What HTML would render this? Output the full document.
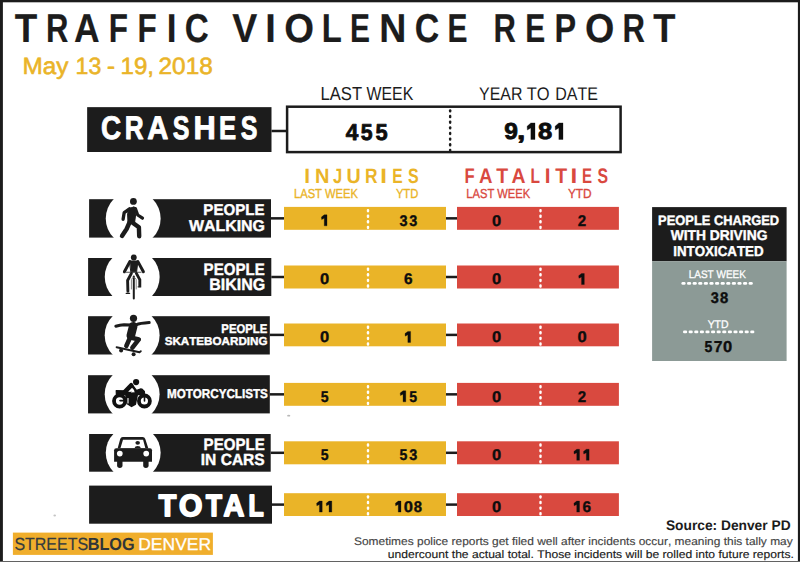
<!DOCTYPE html>
<html><head><meta charset="utf-8"><style>
html,body{margin:0;padding:0;background:#fff;width:800px;height:562px;overflow:hidden}
svg{display:block}
text{font-family:"Liberation Sans", sans-serif;font-kerning:none;text-rendering:geometricPrecision}
</style></head><body>
<svg width="800" height="562" viewBox="0 0 800 562">
<rect width="800" height="562" fill="#fff"/>
<rect x="0" y="0" width="800" height="2.3" fill="#1c1c1c"/>
<rect x="0" y="0" width="2.9" height="562" fill="#1c1c1c"/>
<rect x="797.9" y="0" width="2.1" height="562" fill="#1c1c1c"/>
<rect x="0" y="561" width="800" height="1" fill="#626262"/>
<text x="14.63" y="41.90" font-size="40.26" font-weight="bold" fill="#1c1c1c" textLength="22.47" lengthAdjust="spacingAndGlyphs"  stroke="#1c1c1c" stroke-width="0.2" stroke-linejoin="round">T</text>
<text x="45.88" y="41.90" font-size="40.26" font-weight="bold" fill="#1c1c1c" textLength="22.40" lengthAdjust="spacingAndGlyphs"  stroke="#1c1c1c" stroke-width="0.2" stroke-linejoin="round">R</text>
<text x="74.11" y="41.90" font-size="40.26" font-weight="bold" fill="#1c1c1c" textLength="25.65" lengthAdjust="spacingAndGlyphs"  stroke="#1c1c1c" stroke-width="0.2" stroke-linejoin="round">A</text>
<text x="108.70" y="41.90" font-size="40.26" font-weight="bold" fill="#1c1c1c" textLength="19.22" lengthAdjust="spacingAndGlyphs"  stroke="#1c1c1c" stroke-width="0.2" stroke-linejoin="round">F</text>
<text x="137.40" y="41.90" font-size="40.26" font-weight="bold" fill="#1c1c1c" textLength="19.22" lengthAdjust="spacingAndGlyphs"  stroke="#1c1c1c" stroke-width="0.2" stroke-linejoin="round">F</text>
<text x="166.81" y="41.90" font-size="40.26" font-weight="bold" fill="#1c1c1c" textLength="9.77" lengthAdjust="spacingAndGlyphs"  stroke="#1c1c1c" stroke-width="0.2" stroke-linejoin="round">I</text>
<text x="184.87" y="41.90" font-size="40.26" font-weight="bold" fill="#1c1c1c" textLength="23.98" lengthAdjust="spacingAndGlyphs"  stroke="#1c1c1c" stroke-width="0.2" stroke-linejoin="round">C</text>
<text x="232.21" y="41.90" font-size="40.26" font-weight="bold" fill="#1c1c1c" textLength="25.05" lengthAdjust="spacingAndGlyphs"  stroke="#1c1c1c" stroke-width="0.2" stroke-linejoin="round">V</text>
<text x="265.33" y="41.90" font-size="40.26" font-weight="bold" fill="#1c1c1c" textLength="10.54" lengthAdjust="spacingAndGlyphs"  stroke="#1c1c1c" stroke-width="0.2" stroke-linejoin="round">I</text>
<text x="284.27" y="41.90" font-size="40.26" font-weight="bold" fill="#1c1c1c" textLength="29.77" lengthAdjust="spacingAndGlyphs"  stroke="#1c1c1c" stroke-width="0.2" stroke-linejoin="round">O</text>
<text x="321.87" y="41.90" font-size="40.26" font-weight="bold" fill="#1c1c1c" textLength="20.05" lengthAdjust="spacingAndGlyphs"  stroke="#1c1c1c" stroke-width="0.2" stroke-linejoin="round">L</text>
<text x="350.06" y="41.90" font-size="40.26" font-weight="bold" fill="#1c1c1c" textLength="19.95" lengthAdjust="spacingAndGlyphs"  stroke="#1c1c1c" stroke-width="0.2" stroke-linejoin="round">E</text>
<text x="379.27" y="41.90" font-size="40.26" font-weight="bold" fill="#1c1c1c" textLength="27.05" lengthAdjust="spacingAndGlyphs"  stroke="#1c1c1c" stroke-width="0.2" stroke-linejoin="round">N</text>
<text x="414.84" y="41.90" font-size="40.26" font-weight="bold" fill="#1c1c1c" textLength="24.48" lengthAdjust="spacingAndGlyphs"  stroke="#1c1c1c" stroke-width="0.2" stroke-linejoin="round">C</text>
<text x="447.56" y="41.90" font-size="40.26" font-weight="bold" fill="#1c1c1c" textLength="19.95" lengthAdjust="spacingAndGlyphs"  stroke="#1c1c1c" stroke-width="0.2" stroke-linejoin="round">E</text>
<text x="493.38" y="41.90" font-size="40.26" font-weight="bold" fill="#1c1c1c" textLength="22.40" lengthAdjust="spacingAndGlyphs"  stroke="#1c1c1c" stroke-width="0.2" stroke-linejoin="round">R</text>
<text x="525.16" y="41.90" font-size="40.26" font-weight="bold" fill="#1c1c1c" textLength="19.95" lengthAdjust="spacingAndGlyphs"  stroke="#1c1c1c" stroke-width="0.2" stroke-linejoin="round">E</text>
<text x="554.59" y="41.90" font-size="40.26" font-weight="bold" fill="#1c1c1c" textLength="21.65" lengthAdjust="spacingAndGlyphs"  stroke="#1c1c1c" stroke-width="0.2" stroke-linejoin="round">P</text>
<text x="584.89" y="41.90" font-size="40.26" font-weight="bold" fill="#1c1c1c" textLength="29.32" lengthAdjust="spacingAndGlyphs"  stroke="#1c1c1c" stroke-width="0.2" stroke-linejoin="round">O</text>
<text x="622.43" y="41.90" font-size="40.26" font-weight="bold" fill="#1c1c1c" textLength="22.46" lengthAdjust="spacingAndGlyphs"  stroke="#1c1c1c" stroke-width="0.2" stroke-linejoin="round">R</text>
<text x="653.34" y="41.90" font-size="40.26" font-weight="bold" fill="#1c1c1c" textLength="22.16" lengthAdjust="spacingAndGlyphs"  stroke="#1c1c1c" stroke-width="0.2" stroke-linejoin="round">T</text>
<text x="22.45" y="73.60" font-size="23.55" font-weight="normal" fill="#eab428" textLength="45.98" lengthAdjust="spacingAndGlyphs"  stroke="#eab428" stroke-width="0.6" stroke-linejoin="round">May</text>
<text x="75.57" y="73.60" font-size="23.55" font-weight="normal" fill="#eab428" textLength="25.71" lengthAdjust="spacingAndGlyphs"  stroke="#eab428" stroke-width="0.6" stroke-linejoin="round">13</text>
<text x="107.12" y="73.60" font-size="23.55" font-weight="normal" fill="#eab428" textLength="8.02" lengthAdjust="spacingAndGlyphs"  stroke="#eab428" stroke-width="0.6" stroke-linejoin="round">-</text>
<text x="120.59" y="73.60" font-size="23.55" font-weight="normal" fill="#eab428" textLength="33.48" lengthAdjust="spacingAndGlyphs"  stroke="#eab428" stroke-width="0.6" stroke-linejoin="round">19,</text>
<text x="158.58" y="73.60" font-size="23.55" font-weight="normal" fill="#eab428" textLength="54.18" lengthAdjust="spacingAndGlyphs"  stroke="#eab428" stroke-width="0.6" stroke-linejoin="round">2018</text>
<text x="320.57" y="100.10" font-size="18.75" font-weight="normal" fill="#1c1c1c" textLength="41.48" lengthAdjust="spacingAndGlyphs" >LAST</text>
<text x="366.62" y="100.10" font-size="18.75" font-weight="normal" fill="#1c1c1c" textLength="46.64" lengthAdjust="spacingAndGlyphs" >WEEK</text>
<text x="479.10" y="99.50" font-size="18.31" font-weight="normal" fill="#1c1c1c" textLength="43.42" lengthAdjust="spacingAndGlyphs" >YEAR</text>
<text x="526.67" y="99.50" font-size="18.31" font-weight="normal" fill="#1c1c1c" textLength="22.90" lengthAdjust="spacingAndGlyphs" >TO</text>
<text x="555.18" y="99.50" font-size="18.31" font-weight="normal" fill="#1c1c1c" textLength="42.72" lengthAdjust="spacingAndGlyphs" >DATE</text>
<rect x="87.15" y="107.15" width="184.35" height="44.85" fill="#1c1c1c"/>
<text x="100.99" y="139.10" font-size="32.70" font-weight="bold" fill="#fff" textLength="20.12" lengthAdjust="spacingAndGlyphs"  stroke="#fff" stroke-width="0.9" stroke-linejoin="round">C</text>
<text x="124.75" y="139.10" font-size="32.70" font-weight="bold" fill="#fff" textLength="18.88" lengthAdjust="spacingAndGlyphs"  stroke="#fff" stroke-width="0.9" stroke-linejoin="round">R</text>
<text x="147.32" y="139.10" font-size="32.70" font-weight="bold" fill="#fff" textLength="21.13" lengthAdjust="spacingAndGlyphs"  stroke="#fff" stroke-width="0.9" stroke-linejoin="round">A</text>
<text x="172.70" y="139.10" font-size="32.70" font-weight="bold" fill="#fff" textLength="16.68" lengthAdjust="spacingAndGlyphs"  stroke="#fff" stroke-width="0.9" stroke-linejoin="round">S</text>
<text x="193.44" y="139.10" font-size="32.70" font-weight="bold" fill="#fff" textLength="22.28" lengthAdjust="spacingAndGlyphs"  stroke="#fff" stroke-width="0.9" stroke-linejoin="round">H</text>
<text x="219.08" y="139.10" font-size="32.70" font-weight="bold" fill="#fff" textLength="17.12" lengthAdjust="spacingAndGlyphs"  stroke="#fff" stroke-width="0.9" stroke-linejoin="round">E</text>
<text x="240.70" y="139.10" font-size="32.70" font-weight="bold" fill="#fff" textLength="16.68" lengthAdjust="spacingAndGlyphs"  stroke="#fff" stroke-width="0.9" stroke-linejoin="round">S</text>
<rect x="271.5" y="129.75" width="15" height="2.5" fill="#1c1c1c"/>
<rect x="287.1" y="106.7" width="333.5" height="45.4" fill="#fff" stroke="#1c1c1c" stroke-width="2.5"/>
<rect x="448.95" y="109.20" width="2.4" height="3.4" rx="1.1" fill="#1c1c1c"/>
<rect x="448.95" y="114.85" width="2.4" height="3.4" rx="1.1" fill="#1c1c1c"/>
<rect x="448.95" y="120.50" width="2.4" height="3.4" rx="1.1" fill="#1c1c1c"/>
<rect x="448.95" y="126.15" width="2.4" height="3.4" rx="1.1" fill="#1c1c1c"/>
<rect x="448.95" y="131.80" width="2.4" height="3.4" rx="1.1" fill="#1c1c1c"/>
<rect x="448.95" y="137.45" width="2.4" height="3.4" rx="1.1" fill="#1c1c1c"/>
<rect x="448.95" y="143.10" width="2.4" height="3.4" rx="1.1" fill="#1c1c1c"/>
<rect x="448.95" y="148.75" width="2.4" height="3.4" rx="1.1" fill="#1c1c1c"/>
<text x="345.86" y="139.60" font-size="22.97" font-weight="bold" fill="#0d0d0d" textLength="12.58" lengthAdjust="spacingAndGlyphs"  stroke="#0d0d0d" stroke-width="0.8" stroke-linejoin="round">4</text>
<text x="360.66" y="139.60" font-size="22.97" font-weight="bold" fill="#0d0d0d" textLength="11.79" lengthAdjust="spacingAndGlyphs"  stroke="#0d0d0d" stroke-width="0.8" stroke-linejoin="round">5</text>
<text x="375.45" y="139.60" font-size="22.97" font-weight="bold" fill="#0d0d0d" textLength="12.12" lengthAdjust="spacingAndGlyphs"  stroke="#0d0d0d" stroke-width="0.8" stroke-linejoin="round">5</text>
<text x="504.34" y="139.20" font-size="23.11" font-weight="bold" fill="#0d0d0d" textLength="13.65" lengthAdjust="spacingAndGlyphs"  stroke="#0d0d0d" stroke-width="0.8" stroke-linejoin="round">9</text>
<text x="516.90" y="139.20" font-size="23.11" font-weight="bold" fill="#0d0d0d" textLength="8.33" lengthAdjust="spacingAndGlyphs"  stroke="#0d0d0d" stroke-width="0.8" stroke-linejoin="round">,</text>
<path d="M530.85 122.90 L535.00 122.90 L535.00 139.50 L530.85 139.50 L530.85 128.05 L527.35 130.04 L527.10 126.22 Z" fill="#0d0d0d" stroke="#0d0d0d" stroke-width="0.3" stroke-linejoin="round"/>
<text x="538.13" y="139.20" font-size="23.11" font-weight="bold" fill="#0d0d0d" textLength="14.27" lengthAdjust="spacingAndGlyphs"  stroke="#0d0d0d" stroke-width="0.8" stroke-linejoin="round">8</text>
<path d="M558.85 122.90 L563.00 122.90 L563.00 139.50 L558.85 139.50 L558.85 128.05 L555.35 130.04 L555.10 126.22 Z" fill="#0d0d0d" stroke="#0d0d0d" stroke-width="0.3" stroke-linejoin="round"/>
<text x="304.33" y="183.00" font-size="20.78" font-weight="bold" fill="#eab428" textLength="5.84" lengthAdjust="spacingAndGlyphs" >I</text>
<text x="314.90" y="183.00" font-size="20.78" font-weight="bold" fill="#eab428" textLength="14.44" lengthAdjust="spacingAndGlyphs" >N</text>
<text x="332.95" y="183.00" font-size="20.78" font-weight="bold" fill="#eab428" textLength="9.25" lengthAdjust="spacingAndGlyphs" >J</text>
<text x="346.52" y="183.00" font-size="20.78" font-weight="bold" fill="#eab428" textLength="14.20" lengthAdjust="spacingAndGlyphs" >U</text>
<text x="364.97" y="183.00" font-size="20.78" font-weight="bold" fill="#eab428" textLength="12.51" lengthAdjust="spacingAndGlyphs" >R</text>
<text x="380.33" y="183.00" font-size="20.78" font-weight="bold" fill="#eab428" textLength="6.71" lengthAdjust="spacingAndGlyphs" >I</text>
<text x="392.19" y="183.00" font-size="20.78" font-weight="bold" fill="#eab428" textLength="10.39" lengthAdjust="spacingAndGlyphs" >E</text>
<text x="408.12" y="183.00" font-size="20.78" font-weight="bold" fill="#eab428" textLength="10.67" lengthAdjust="spacingAndGlyphs" >S</text>
<text x="464.42" y="183.00" font-size="21.08" font-weight="bold" fill="#d9493f" textLength="10.18" lengthAdjust="spacingAndGlyphs" >F</text>
<text x="479.03" y="183.00" font-size="21.08" font-weight="bold" fill="#d9493f" textLength="13.47" lengthAdjust="spacingAndGlyphs" >A</text>
<text x="496.31" y="183.00" font-size="21.08" font-weight="bold" fill="#d9493f" textLength="11.91" lengthAdjust="spacingAndGlyphs" >T</text>
<text x="511.51" y="183.00" font-size="21.08" font-weight="bold" fill="#d9493f" textLength="14.01" lengthAdjust="spacingAndGlyphs" >A</text>
<text x="530.49" y="183.00" font-size="21.08" font-weight="bold" fill="#d9493f" textLength="9.49" lengthAdjust="spacingAndGlyphs" >L</text>
<text x="544.66" y="183.00" font-size="21.08" font-weight="bold" fill="#d9493f" textLength="5.75" lengthAdjust="spacingAndGlyphs" >I</text>
<text x="555.31" y="183.00" font-size="21.08" font-weight="bold" fill="#d9493f" textLength="11.91" lengthAdjust="spacingAndGlyphs" >T</text>
<text x="570.43" y="183.00" font-size="21.08" font-weight="bold" fill="#d9493f" textLength="6.71" lengthAdjust="spacingAndGlyphs" >I</text>
<text x="582.02" y="183.00" font-size="21.08" font-weight="bold" fill="#d9493f" textLength="10.03" lengthAdjust="spacingAndGlyphs" >E</text>
<text x="597.52" y="183.00" font-size="21.08" font-weight="bold" fill="#d9493f" textLength="10.56" lengthAdjust="spacingAndGlyphs" >S</text>
<text x="293.98" y="197.50" font-size="13.08" font-weight="normal" fill="#eab428" textLength="63.97" lengthAdjust="spacingAndGlyphs"  stroke="#eab428" stroke-width="0.35" stroke-linejoin="round">LAST WEEK</text>
<text x="395.89" y="197.50" font-size="13.08" font-weight="normal" fill="#eab428" textLength="22.44" lengthAdjust="spacingAndGlyphs"  stroke="#eab428" stroke-width="0.35" stroke-linejoin="round">YTD</text>
<text x="466.28" y="197.50" font-size="13.08" font-weight="normal" fill="#d9493f" textLength="63.97" lengthAdjust="spacingAndGlyphs"  stroke="#d9493f" stroke-width="0.35" stroke-linejoin="round">LAST WEEK</text>
<text x="567.88" y="197.50" font-size="13.08" font-weight="normal" fill="#d9493f" textLength="23.78" lengthAdjust="spacingAndGlyphs"  stroke="#d9493f" stroke-width="0.35" stroke-linejoin="round">YTD</text>
<rect x="89.1" y="199.2" width="181.90" height="38.40" fill="#1c1c1c"/>
<circle cx="133.20" cy="218.40" r="27.45" fill="#fff"/>
<rect x="271.0" y="217.10" width="13.00" height="2.5" fill="#1c1c1c"/>
<rect x="446" y="217.10" width="11" height="2.5" fill="#1c1c1c"/>
<rect x="284" y="206.9" width="162" height="22.90" fill="#eab428"/>
<rect x="457" y="206.9" width="161.9" height="22.90" fill="#d9493f"/>
<rect x="366.8" y="208.90" width="2.4" height="3.5" rx="1.1" fill="#fff"/>
<rect x="366.8" y="214.50" width="2.4" height="3.5" rx="1.1" fill="#fff"/>
<rect x="366.8" y="220.10" width="2.4" height="3.5" rx="1.1" fill="#fff"/>
<rect x="366.8" y="225.70" width="2.4" height="3.5" rx="1.1" fill="#fff"/>
<rect x="539.3" y="208.90" width="2.4" height="3.5" rx="1.1" fill="#fff"/>
<rect x="539.3" y="214.50" width="2.4" height="3.5" rx="1.1" fill="#fff"/>
<rect x="539.3" y="220.10" width="2.4" height="3.5" rx="1.1" fill="#fff"/>
<rect x="539.3" y="225.70" width="2.4" height="3.5" rx="1.1" fill="#fff"/>
<path d="M324.25 214.85 L327.00 214.85 L327.00 225.85 L324.25 225.85 L324.25 218.26 L321.65 219.58 L321.40 217.05 Z" fill="#0d0d0d" stroke="#0d0d0d" stroke-width="0.3" stroke-linejoin="round"/>
<text x="399.56" y="225.68" font-size="15.48" font-weight="bold" fill="#0d0d0d" textLength="8.03" lengthAdjust="spacingAndGlyphs"  stroke="#0d0d0d" stroke-width="0.35" stroke-linejoin="round">3</text>
<text x="409.16" y="225.68" font-size="15.48" font-weight="bold" fill="#0d0d0d" textLength="8.03" lengthAdjust="spacingAndGlyphs"  stroke="#0d0d0d" stroke-width="0.35" stroke-linejoin="round">3</text>
<text x="492.01" y="225.68" font-size="15.48" font-weight="bold" fill="#0d0d0d" textLength="9.19" lengthAdjust="spacingAndGlyphs"  stroke="#0d0d0d" stroke-width="0.35" stroke-linejoin="round">0</text>
<text x="577.85" y="225.68" font-size="15.48" font-weight="bold" fill="#0d0d0d" textLength="8.40" lengthAdjust="spacingAndGlyphs"  stroke="#0d0d0d" stroke-width="0.35" stroke-linejoin="round">2</text>
<rect x="88.1" y="258.0" width="183.20" height="38.00" fill="#1c1c1c"/>
<circle cx="132.20" cy="277.00" r="27.45" fill="#fff"/>
<rect x="271.3" y="275.75" width="12.70" height="2.5" fill="#1c1c1c"/>
<rect x="446" y="275.75" width="11" height="2.5" fill="#1c1c1c"/>
<rect x="284" y="265.5" width="162" height="23.00" fill="#eab428"/>
<rect x="457" y="265.5" width="161.9" height="23.00" fill="#d9493f"/>
<rect x="366.8" y="267.50" width="2.4" height="3.5" rx="1.1" fill="#fff"/>
<rect x="366.8" y="273.10" width="2.4" height="3.5" rx="1.1" fill="#fff"/>
<rect x="366.8" y="278.70" width="2.4" height="3.5" rx="1.1" fill="#fff"/>
<rect x="366.8" y="284.30" width="2.4" height="3.5" rx="1.1" fill="#fff"/>
<rect x="539.3" y="267.50" width="2.4" height="3.5" rx="1.1" fill="#fff"/>
<rect x="539.3" y="273.10" width="2.4" height="3.5" rx="1.1" fill="#fff"/>
<rect x="539.3" y="278.70" width="2.4" height="3.5" rx="1.1" fill="#fff"/>
<rect x="539.3" y="284.30" width="2.4" height="3.5" rx="1.1" fill="#fff"/>
<text x="320.11" y="284.32" font-size="15.48" font-weight="bold" fill="#0d0d0d" textLength="9.19" lengthAdjust="spacingAndGlyphs"  stroke="#0d0d0d" stroke-width="0.35" stroke-linejoin="round">0</text>
<text x="404.04" y="284.32" font-size="15.48" font-weight="bold" fill="#0d0d0d" textLength="8.54" lengthAdjust="spacingAndGlyphs"  stroke="#0d0d0d" stroke-width="0.35" stroke-linejoin="round">6</text>
<text x="492.01" y="284.32" font-size="15.48" font-weight="bold" fill="#0d0d0d" textLength="9.19" lengthAdjust="spacingAndGlyphs"  stroke="#0d0d0d" stroke-width="0.35" stroke-linejoin="round">0</text>
<path d="M581.55 273.50 L584.30 273.50 L584.30 284.50 L581.55 284.50 L581.55 276.91 L578.95 278.23 L578.70 275.70 Z" fill="#0d0d0d" stroke="#0d0d0d" stroke-width="0.3" stroke-linejoin="round"/>
<rect x="88.05" y="316.2" width="181.75" height="38.30" fill="#1c1c1c"/>
<circle cx="132.15" cy="335.35" r="27.45" fill="#fff"/>
<rect x="269.8" y="333.65" width="14.20" height="2.5" fill="#1c1c1c"/>
<rect x="446" y="333.65" width="11" height="2.5" fill="#1c1c1c"/>
<rect x="284" y="323.5" width="162" height="22.80" fill="#eab428"/>
<rect x="457" y="323.5" width="161.9" height="22.80" fill="#d9493f"/>
<rect x="366.8" y="325.50" width="2.4" height="3.5" rx="1.1" fill="#fff"/>
<rect x="366.8" y="331.10" width="2.4" height="3.5" rx="1.1" fill="#fff"/>
<rect x="366.8" y="336.70" width="2.4" height="3.5" rx="1.1" fill="#fff"/>
<rect x="366.8" y="342.30" width="2.4" height="3.5" rx="1.1" fill="#fff"/>
<rect x="539.3" y="325.50" width="2.4" height="3.5" rx="1.1" fill="#fff"/>
<rect x="539.3" y="331.10" width="2.4" height="3.5" rx="1.1" fill="#fff"/>
<rect x="539.3" y="336.70" width="2.4" height="3.5" rx="1.1" fill="#fff"/>
<rect x="539.3" y="342.30" width="2.4" height="3.5" rx="1.1" fill="#fff"/>
<text x="320.11" y="342.22" font-size="15.48" font-weight="bold" fill="#0d0d0d" textLength="9.19" lengthAdjust="spacingAndGlyphs"  stroke="#0d0d0d" stroke-width="0.35" stroke-linejoin="round">0</text>
<path d="M407.85 331.40 L410.60 331.40 L410.60 342.40 L407.85 342.40 L407.85 334.81 L405.25 336.13 L405.00 333.60 Z" fill="#0d0d0d" stroke="#0d0d0d" stroke-width="0.3" stroke-linejoin="round"/>
<text x="492.01" y="342.22" font-size="15.48" font-weight="bold" fill="#0d0d0d" textLength="9.19" lengthAdjust="spacingAndGlyphs"  stroke="#0d0d0d" stroke-width="0.35" stroke-linejoin="round">0</text>
<text x="577.41" y="342.22" font-size="15.48" font-weight="bold" fill="#0d0d0d" textLength="9.19" lengthAdjust="spacingAndGlyphs"  stroke="#0d0d0d" stroke-width="0.35" stroke-linejoin="round">0</text>
<rect x="88.05" y="375.2" width="181.75" height="38.20" fill="#1c1c1c"/>
<circle cx="132.15" cy="394.30" r="27.45" fill="#fff"/>
<rect x="269.8" y="393.10" width="14.20" height="2.5" fill="#1c1c1c"/>
<rect x="446" y="393.10" width="11" height="2.5" fill="#1c1c1c"/>
<rect x="284" y="382.9" width="162" height="22.90" fill="#eab428"/>
<rect x="457" y="382.9" width="161.9" height="22.90" fill="#d9493f"/>
<rect x="366.8" y="384.90" width="2.4" height="3.5" rx="1.1" fill="#fff"/>
<rect x="366.8" y="390.50" width="2.4" height="3.5" rx="1.1" fill="#fff"/>
<rect x="366.8" y="396.10" width="2.4" height="3.5" rx="1.1" fill="#fff"/>
<rect x="366.8" y="401.70" width="2.4" height="3.5" rx="1.1" fill="#fff"/>
<rect x="539.3" y="384.90" width="2.4" height="3.5" rx="1.1" fill="#fff"/>
<rect x="539.3" y="390.50" width="2.4" height="3.5" rx="1.1" fill="#fff"/>
<rect x="539.3" y="396.10" width="2.4" height="3.5" rx="1.1" fill="#fff"/>
<rect x="539.3" y="401.70" width="2.4" height="3.5" rx="1.1" fill="#fff"/>
<text x="320.75" y="401.68" font-size="15.48" font-weight="bold" fill="#0d0d0d" textLength="7.84" lengthAdjust="spacingAndGlyphs"  stroke="#0d0d0d" stroke-width="0.35" stroke-linejoin="round">5</text>
<path d="M403.05 390.85 L405.80 390.85 L405.80 401.85 L403.05 401.85 L403.05 394.26 L400.45 395.58 L400.20 393.05 Z" fill="#0d0d0d" stroke="#0d0d0d" stroke-width="0.3" stroke-linejoin="round"/>
<text x="409.15" y="401.68" font-size="15.48" font-weight="bold" fill="#0d0d0d" textLength="7.84" lengthAdjust="spacingAndGlyphs"  stroke="#0d0d0d" stroke-width="0.35" stroke-linejoin="round">5</text>
<text x="492.01" y="401.68" font-size="15.48" font-weight="bold" fill="#0d0d0d" textLength="9.19" lengthAdjust="spacingAndGlyphs"  stroke="#0d0d0d" stroke-width="0.35" stroke-linejoin="round">0</text>
<text x="577.85" y="401.68" font-size="15.48" font-weight="bold" fill="#0d0d0d" textLength="8.40" lengthAdjust="spacingAndGlyphs"  stroke="#0d0d0d" stroke-width="0.35" stroke-linejoin="round">2</text>
<rect x="89.1" y="434.0" width="181.60" height="37.70" fill="#1c1c1c"/>
<circle cx="133.20" cy="452.85" r="27.45" fill="#fff"/>
<rect x="270.7" y="451.55" width="13.30" height="2.5" fill="#1c1c1c"/>
<rect x="446" y="451.55" width="11" height="2.5" fill="#1c1c1c"/>
<rect x="284" y="441.3" width="162" height="23.00" fill="#eab428"/>
<rect x="457" y="441.3" width="161.9" height="23.00" fill="#d9493f"/>
<rect x="366.8" y="443.30" width="2.4" height="3.5" rx="1.1" fill="#fff"/>
<rect x="366.8" y="448.90" width="2.4" height="3.5" rx="1.1" fill="#fff"/>
<rect x="366.8" y="454.50" width="2.4" height="3.5" rx="1.1" fill="#fff"/>
<rect x="366.8" y="460.10" width="2.4" height="3.5" rx="1.1" fill="#fff"/>
<rect x="539.3" y="443.30" width="2.4" height="3.5" rx="1.1" fill="#fff"/>
<rect x="539.3" y="448.90" width="2.4" height="3.5" rx="1.1" fill="#fff"/>
<rect x="539.3" y="454.50" width="2.4" height="3.5" rx="1.1" fill="#fff"/>
<rect x="539.3" y="460.10" width="2.4" height="3.5" rx="1.1" fill="#fff"/>
<text x="320.75" y="460.12" font-size="15.48" font-weight="bold" fill="#0d0d0d" textLength="7.84" lengthAdjust="spacingAndGlyphs"  stroke="#0d0d0d" stroke-width="0.35" stroke-linejoin="round">5</text>
<text x="399.55" y="460.12" font-size="15.48" font-weight="bold" fill="#0d0d0d" textLength="7.84" lengthAdjust="spacingAndGlyphs"  stroke="#0d0d0d" stroke-width="0.35" stroke-linejoin="round">5</text>
<text x="409.16" y="460.12" font-size="15.48" font-weight="bold" fill="#0d0d0d" textLength="8.03" lengthAdjust="spacingAndGlyphs"  stroke="#0d0d0d" stroke-width="0.35" stroke-linejoin="round">3</text>
<text x="492.01" y="460.12" font-size="15.48" font-weight="bold" fill="#0d0d0d" textLength="9.19" lengthAdjust="spacingAndGlyphs"  stroke="#0d0d0d" stroke-width="0.35" stroke-linejoin="round">0</text>
<path d="M576.75 449.30 L579.50 449.30 L579.50 460.30 L576.75 460.30 L576.75 452.71 L574.15 454.03 L573.90 451.50 Z" fill="#0d0d0d" stroke="#0d0d0d" stroke-width="0.3" stroke-linejoin="round"/>
<path d="M586.35 449.30 L589.10 449.30 L589.10 460.30 L586.35 460.30 L586.35 452.71 L583.75 454.03 L583.50 451.50 Z" fill="#0d0d0d" stroke="#0d0d0d" stroke-width="0.3" stroke-linejoin="round"/>
<rect x="89.1" y="485.6" width="182.90" height="38.10" fill="#1c1c1c"/>
<rect x="272.0" y="503.35" width="12.00" height="2.5" fill="#1c1c1c"/>
<rect x="446" y="503.35" width="11" height="2.5" fill="#1c1c1c"/>
<rect x="284" y="493.2" width="162" height="22.80" fill="#eab428"/>
<rect x="457" y="493.2" width="161.9" height="22.80" fill="#d9493f"/>
<rect x="366.8" y="495.20" width="2.4" height="3.5" rx="1.1" fill="#fff"/>
<rect x="366.8" y="500.80" width="2.4" height="3.5" rx="1.1" fill="#fff"/>
<rect x="366.8" y="506.40" width="2.4" height="3.5" rx="1.1" fill="#fff"/>
<rect x="366.8" y="512.00" width="2.4" height="3.5" rx="1.1" fill="#fff"/>
<rect x="539.3" y="495.20" width="2.4" height="3.5" rx="1.1" fill="#fff"/>
<rect x="539.3" y="500.80" width="2.4" height="3.5" rx="1.1" fill="#fff"/>
<rect x="539.3" y="506.40" width="2.4" height="3.5" rx="1.1" fill="#fff"/>
<rect x="539.3" y="512.00" width="2.4" height="3.5" rx="1.1" fill="#fff"/>
<path d="M319.45 501.10 L322.20 501.10 L322.20 512.10 L319.45 512.10 L319.45 504.51 L316.85 505.83 L316.60 503.30 Z" fill="#0d0d0d" stroke="#0d0d0d" stroke-width="0.3" stroke-linejoin="round"/>
<path d="M329.05 501.10 L331.80 501.10 L331.80 512.10 L329.05 512.10 L329.05 504.51 L326.45 505.83 L326.20 503.30 Z" fill="#0d0d0d" stroke="#0d0d0d" stroke-width="0.3" stroke-linejoin="round"/>
<path d="M398.25 501.10 L401.00 501.10 L401.00 512.10 L398.25 512.10 L398.25 504.51 L395.65 505.83 L395.40 503.30 Z" fill="#0d0d0d" stroke="#0d0d0d" stroke-width="0.3" stroke-linejoin="round"/>
<text x="403.71" y="511.93" font-size="15.48" font-weight="bold" fill="#0d0d0d" textLength="9.19" lengthAdjust="spacingAndGlyphs"  stroke="#0d0d0d" stroke-width="0.35" stroke-linejoin="round">0</text>
<text x="413.78" y="511.93" font-size="15.48" font-weight="bold" fill="#0d0d0d" textLength="8.26" lengthAdjust="spacingAndGlyphs"  stroke="#0d0d0d" stroke-width="0.35" stroke-linejoin="round">8</text>
<text x="492.01" y="511.93" font-size="15.48" font-weight="bold" fill="#0d0d0d" textLength="9.19" lengthAdjust="spacingAndGlyphs"  stroke="#0d0d0d" stroke-width="0.35" stroke-linejoin="round">0</text>
<path d="M576.75 501.10 L579.50 501.10 L579.50 512.10 L576.75 512.10 L576.75 504.51 L574.15 505.83 L573.90 503.30 Z" fill="#0d0d0d" stroke="#0d0d0d" stroke-width="0.3" stroke-linejoin="round"/>
<text x="582.54" y="511.93" font-size="15.48" font-weight="bold" fill="#0d0d0d" textLength="8.54" lengthAdjust="spacingAndGlyphs"  stroke="#0d0d0d" stroke-width="0.35" stroke-linejoin="round">6</text>
<text x="203.32" y="215.20" font-size="15.63" font-weight="bold" fill="#fff" textLength="61.24" lengthAdjust="spacingAndGlyphs"  stroke="#fff" stroke-width="0.4" stroke-linejoin="round">PEOPLE</text>
<text x="188.90" y="231.15" font-size="15.63" font-weight="bold" fill="#fff" textLength="76.09" lengthAdjust="spacingAndGlyphs"  stroke="#fff" stroke-width="0.4" stroke-linejoin="round">WALKING</text>
<text x="203.62" y="274.70" font-size="16.86" font-weight="bold" fill="#fff" textLength="61.08" lengthAdjust="spacingAndGlyphs"  stroke="#fff" stroke-width="0.4" stroke-linejoin="round">PEOPLE</text>
<text x="209.16" y="289.70" font-size="16.42" font-weight="bold" fill="#fff" textLength="56.03" lengthAdjust="spacingAndGlyphs"  stroke="#fff" stroke-width="0.4" stroke-linejoin="round">BIKING</text>
<text x="221.37" y="333.00" font-size="12.65" font-weight="bold" fill="#fff" textLength="45.85" lengthAdjust="spacingAndGlyphs"  stroke="#fff" stroke-width="0.4" stroke-linejoin="round">PEOPLE</text>
<text x="164.65" y="345.40" font-size="11.48" font-weight="bold" fill="#fff" textLength="102.91" lengthAdjust="spacingAndGlyphs"  stroke="#fff" stroke-width="0.4" stroke-linejoin="round">SKATEBOARDING</text>
<text x="166.94" y="398.30" font-size="12.94" font-weight="bold" fill="#fff" textLength="100.91" lengthAdjust="spacingAndGlyphs"  stroke="#fff" stroke-width="0.4" stroke-linejoin="round">MOTORCYCLISTS</text>
<text x="203.62" y="449.90" font-size="16.57" font-weight="bold" fill="#fff" textLength="61.08" lengthAdjust="spacingAndGlyphs"  stroke="#fff" stroke-width="0.4" stroke-linejoin="round">PEOPLE</text>
<text x="200.79" y="465.30" font-size="16.13" font-weight="bold" fill="#fff" textLength="63.93" lengthAdjust="spacingAndGlyphs"  stroke="#fff" stroke-width="0.4" stroke-linejoin="round">IN CARS</text>
<text x="158.71" y="516.00" font-size="30.52" font-weight="bold" fill="#fff" textLength="17.50" lengthAdjust="spacingAndGlyphs"  stroke="#fff" stroke-width="1.8" stroke-linejoin="round">T</text>
<text x="179.00" y="516.00" font-size="30.52" font-weight="bold" fill="#fff" textLength="23.39" lengthAdjust="spacingAndGlyphs"  stroke="#fff" stroke-width="1.8" stroke-linejoin="round">O</text>
<text x="205.94" y="516.00" font-size="30.52" font-weight="bold" fill="#fff" textLength="15.94" lengthAdjust="spacingAndGlyphs"  stroke="#fff" stroke-width="1.8" stroke-linejoin="round">T</text>
<text x="223.48" y="516.00" font-size="30.52" font-weight="bold" fill="#fff" textLength="20.80" lengthAdjust="spacingAndGlyphs"  stroke="#fff" stroke-width="1.8" stroke-linejoin="round">A</text>
<text x="248.58" y="516.00" font-size="30.52" font-weight="bold" fill="#fff" textLength="15.18" lengthAdjust="spacingAndGlyphs"  stroke="#fff" stroke-width="1.8" stroke-linejoin="round">L</text>
<rect x="652.1" y="207.1" width="134.5" height="54.2" fill="#1c1c1c"/>
<rect x="652.1" y="261.3" width="134.5" height="99.7" fill="#8c9a96"/>
<text x="658.11" y="224.70" font-size="13.66" font-weight="bold" fill="#fff" textLength="121.01" lengthAdjust="spacingAndGlyphs"  stroke="#fff" stroke-width="0.4" stroke-linejoin="round">PEOPLE CHARGED</text>
<text x="670.70" y="240.20" font-size="14.10" font-weight="bold" fill="#fff" textLength="96.69" lengthAdjust="spacingAndGlyphs"  stroke="#fff" stroke-width="0.4" stroke-linejoin="round">WITH DRIVING</text>
<text x="673.22" y="255.50" font-size="14.39" font-weight="bold" fill="#fff" textLength="90.43" lengthAdjust="spacingAndGlyphs"  stroke="#fff" stroke-width="0.4" stroke-linejoin="round">INTOXICATED</text>
<text x="688.75" y="277.85" font-size="10.90" font-weight="normal" fill="#fff" textLength="57.11" lengthAdjust="spacingAndGlyphs"  stroke="#fff" stroke-width="0.3" stroke-linejoin="round">LAST WEEK</text>
<rect x="681.40" y="282.05" width="4.2" height="2.7" rx="1.35" fill="#fff"/>
<rect x="687.00" y="282.05" width="4.2" height="2.7" rx="1.35" fill="#fff"/>
<rect x="692.60" y="282.05" width="4.2" height="2.7" rx="1.35" fill="#fff"/>
<rect x="698.20" y="282.05" width="4.2" height="2.7" rx="1.35" fill="#fff"/>
<rect x="703.80" y="282.05" width="4.2" height="2.7" rx="1.35" fill="#fff"/>
<rect x="709.40" y="282.05" width="4.2" height="2.7" rx="1.35" fill="#fff"/>
<rect x="715.00" y="282.05" width="4.2" height="2.7" rx="1.35" fill="#fff"/>
<rect x="720.60" y="282.05" width="4.2" height="2.7" rx="1.35" fill="#fff"/>
<rect x="726.20" y="282.05" width="4.2" height="2.7" rx="1.35" fill="#fff"/>
<rect x="731.80" y="282.05" width="4.2" height="2.7" rx="1.35" fill="#fff"/>
<rect x="737.40" y="282.05" width="4.2" height="2.7" rx="1.35" fill="#fff"/>
<rect x="743.00" y="282.05" width="4.2" height="2.7" rx="1.35" fill="#fff"/>
<rect x="748.60" y="282.05" width="4.2" height="2.7" rx="1.35" fill="#fff"/>
<text x="710.66" y="302.82" font-size="15.48" font-weight="bold" fill="#0d0d0d" textLength="8.03" lengthAdjust="spacingAndGlyphs"  stroke="#0d0d0d" stroke-width="0.35" stroke-linejoin="round">3</text>
<text x="720.08" y="302.82" font-size="15.48" font-weight="bold" fill="#0d0d0d" textLength="8.26" lengthAdjust="spacingAndGlyphs"  stroke="#0d0d0d" stroke-width="0.35" stroke-linejoin="round">8</text>
<text x="707.64" y="327.60" font-size="10.90" font-weight="normal" fill="#fff" textLength="20.93" lengthAdjust="spacingAndGlyphs"  stroke="#fff" stroke-width="0.3" stroke-linejoin="round">YTD</text>
<rect x="683.00" y="330.55" width="4.2" height="2.7" rx="1.35" fill="#fff"/>
<rect x="688.60" y="330.55" width="4.2" height="2.7" rx="1.35" fill="#fff"/>
<rect x="694.20" y="330.55" width="4.2" height="2.7" rx="1.35" fill="#fff"/>
<rect x="699.80" y="330.55" width="4.2" height="2.7" rx="1.35" fill="#fff"/>
<rect x="705.40" y="330.55" width="4.2" height="2.7" rx="1.35" fill="#fff"/>
<rect x="711.00" y="330.55" width="4.2" height="2.7" rx="1.35" fill="#fff"/>
<rect x="716.60" y="330.55" width="4.2" height="2.7" rx="1.35" fill="#fff"/>
<rect x="722.20" y="330.55" width="4.2" height="2.7" rx="1.35" fill="#fff"/>
<rect x="727.80" y="330.55" width="4.2" height="2.7" rx="1.35" fill="#fff"/>
<rect x="733.40" y="330.55" width="4.2" height="2.7" rx="1.35" fill="#fff"/>
<rect x="739.00" y="330.55" width="4.2" height="2.7" rx="1.35" fill="#fff"/>
<rect x="744.60" y="330.55" width="4.2" height="2.7" rx="1.35" fill="#fff"/>
<rect x="750.20" y="330.55" width="4.2" height="2.7" rx="1.35" fill="#fff"/>
<text x="704.55" y="351.82" font-size="15.84" font-weight="bold" fill="#0d0d0d" textLength="7.84" lengthAdjust="spacingAndGlyphs"  stroke="#0d0d0d" stroke-width="0.35" stroke-linejoin="round">5</text>
<text x="713.75" y="351.82" font-size="15.84" font-weight="bold" fill="#0d0d0d" textLength="8.72" lengthAdjust="spacingAndGlyphs"  stroke="#0d0d0d" stroke-width="0.35" stroke-linejoin="round">7</text>
<text x="723.11" y="351.82" font-size="15.84" font-weight="bold" fill="#0d0d0d" textLength="9.19" lengthAdjust="spacingAndGlyphs"  stroke="#0d0d0d" stroke-width="0.35" stroke-linejoin="round">0</text>
<ellipse cx="54.7" cy="515.5" rx="1.3" ry="1" fill="#c4c4c4"/>
<ellipse cx="288.7" cy="415.7" rx="1.6" ry="0.9" fill="#b8b8b8"/>
<rect x="12.9" y="532.6" width="200" height="22.3" fill="#f0ae2c"/>
<text x="14.38" y="549.90" font-size="17.59" font-weight="normal" fill="#353b3e" textLength="73.77" lengthAdjust="spacingAndGlyphs"  stroke="#353b3e" stroke-width="0.2" stroke-linejoin="round">STREETS</text>
<text x="87.69" y="549.90" font-size="17.59" font-weight="bold" fill="#2f3538" textLength="46.94" lengthAdjust="spacingAndGlyphs" >BLOG</text>
<text x="138.25" y="549.70" font-size="17.01" font-weight="normal" fill="#fff" textLength="72.83" lengthAdjust="spacingAndGlyphs"  stroke="#fff" stroke-width="0.3" stroke-linejoin="round">DENVER</text>
<text x="665.89" y="529.60" font-size="13.95" font-weight="bold" fill="#1c1c1c" textLength="124.72" lengthAdjust="spacingAndGlyphs" >Source: Denver PD</text>
<text x="353.94" y="544.60" font-size="11.05" font-weight="normal" fill="#454545" textLength="438.78" lengthAdjust="spacingAndGlyphs"  stroke="#454545" stroke-width="0.15" stroke-linejoin="round">Sometimes police reports get filed well after incidents occur, meaning this tally may</text>
<text x="387.79" y="557.60" font-size="11.05" font-weight="normal" fill="#202020" textLength="406.05" lengthAdjust="spacingAndGlyphs"  stroke="#202020" stroke-width="0.15" stroke-linejoin="round">undercount the actual total. Those incidents will be rolled into future reports.</text>
<g id="walk" fill="#1c1c1c" stroke="#1c1c1c" stroke-linecap="round" stroke-linejoin="round">
  <circle cx="133.4" cy="201.4" r="3.4" stroke="none"/>
  <path d="M129 208.6 L134.2 206.8 L136.3 209.5 L134.6 222.4 L128 222.6 L127.6 214 Z" stroke-width="1"/>
  <path d="M129.5 208.8 L124.2 212.6 L123.1 219.3" stroke-width="3.3" fill="none"/>
  <path d="M135.4 208.6 L137.7 215 L142.5 218.2" stroke-width="3.2" fill="none"/>
  <path d="M129.7 222 L126.6 229 L122 236" stroke-width="4.4" fill="none"/>
  <path d="M131.6 222 L138.9 227.3 L139.2 236.2" stroke-width="4.4" fill="none"/>
</g>
<g id="bike" fill="#1c1c1c" stroke="#1c1c1c" stroke-linecap="round" stroke-linejoin="round">
  <circle cx="133.8" cy="257.5" r="2.9" stroke="none"/>
  <path d="M129.8 261 L137.9 261 L136.6 272 L131.2 272 Z" stroke-width="1"/>
  <path d="M129.8 261.6 L124.4 271.8" stroke-width="3" fill="none"/>
  <path d="M137.9 261.6 L143.4 271.8" stroke-width="3" fill="none"/>
  <path d="M126.5 272.2 L141 272.2" stroke-width="1.1" fill="none" stroke="#555"/>
  <path d="M131.4 273.4 L127.6 280.5 L127.9 291.3" stroke-width="2.9" fill="none"/>
  <path d="M136.4 273.4 L139.8 279.6 L139.8 285.8" stroke-width="2.9" fill="none"/>
  <path d="M126.2 293.3 L129.6 293.3" stroke-width="1.3" fill="none"/>
  <path d="M138.2 286.8 L140.8 286.8" stroke-width="1.3" fill="none"/>
  <path d="M133.8 276.5 L133.8 298.6" stroke-width="2" fill="none"/>
  <path d="M131.4 289 L131.4 279.5 Q133.8 275 136.2 279.5 L136.2 289" stroke-width="0.8" fill="none" stroke="#666"/>
</g>
<g id="skate" fill="#1c1c1c" stroke="#1c1c1c" stroke-linecap="round" stroke-linejoin="round">
  <circle cx="133.5" cy="318.3" r="3.6" stroke="none"/>
  <path d="M115.8 326.2 Q120 325 124 324.8 L131 325 L136 324.8 Q140 323.3 149.2 322.6" stroke-width="3" fill="none"/>
  <path d="M133.2 326.2 L130.8 335.6" stroke-width="8.6" fill="none"/>
  <path d="M130.5 337.4 L138.8 339.4 L132.4 347.6" stroke-width="4.6" fill="none"/>
  <path d="M129.4 339 L126.3 346" stroke-width="4.5" fill="none"/>
  <path d="M116.6 347.2 L139.5 352.2 L140.8 351.2" stroke-width="1.9" fill="none"/>
  <circle cx="121.1" cy="350.5" r="2" stroke="none"/>
  <circle cx="133.6" cy="354.2" r="2" stroke="none"/>
</g>
<g id="moto" fill="#111" stroke="#111" stroke-linecap="round" stroke-linejoin="round">
  <circle cx="136.1" cy="382.1" r="3.1" stroke="none"/>
  <path d="M131.2 385.3 L124.2 392.5" stroke-width="4.6" fill="none"/>
  <path d="M132.6 386.2 L136.3 391.2 L140.6 389.6" stroke-width="2.6" fill="none"/>
  <circle cx="119.6" cy="401" r="5.6" stroke-width="3.8" fill="none"/>
  <circle cx="144.4" cy="401" r="5.5" stroke-width="3.8" fill="none"/>
  <path d="M116.2 390.6 L123 390.8 L130 392.6 L138.5 390.3 L141.8 389 L144.4 391.5 L144.6 394.6 L116.4 394.6 Z" stroke-width="1.2"/>
  <path d="M125 394 L138.2 394 L136 404.8 L131.5 407.2 L126.5 404 Z" stroke="none"/>
  <path d="M120 400.6 L125 400.6" stroke-width="1.6" fill="none"/>
  <path d="M144.5 395.5 L144.5 401" stroke-width="1.6" fill="none"/>
  <path d="M128 398.5 L128 403" stroke="#fff" stroke-width="1.1" fill="none"/>
  <path d="M130.8 392.6 L133.2 389.3 L134.8 392.3 Z" fill="#fff" stroke="none"/>
</g>
<g id="car" fill="#1c1c1c" stroke="none">
  <path d="M122.8 437 L142.6 437 Q144.6 437 145.3 439 L148.4 448.6 L117.6 448.6 L120.2 439 Q120.8 437 122.8 437 Z M123 439.7 L120.5 447.9 L145.3 447.9 L143.1 439.7 Z" fill-rule="evenodd"/>
  <path d="M116.2 448.3 L150 448.3 Q152 448.3 152 450.3 L152 461.7 L114.1 461.7 L114.1 450.3 Q114.1 448.3 116.2 448.3 Z"/>
  <circle cx="119.8" cy="453.6" r="2.85" fill="#fff"/>
  <circle cx="146.2" cy="453.6" r="2.85" fill="#fff"/>
  <path d="M117.1 461 L122.5 461 L122.5 465.6 Q122.5 467.9 119.8 467.9 Q117.1 467.9 117.1 465.6 Z"/>
  <path d="M143.2 461 L148.6 461 L148.6 465.6 Q148.6 467.9 145.9 467.9 Q143.2 467.9 143.2 465.6 Z"/>
  <ellipse cx="137.7" cy="442.8" rx="2.3" ry="1.9"/>
  <path d="M134.5 448.2 Q134.8 446.2 137.7 446.1 Q140.6 446.2 140.9 448.2 Z"/>
</g>

</svg>
</body></html>
